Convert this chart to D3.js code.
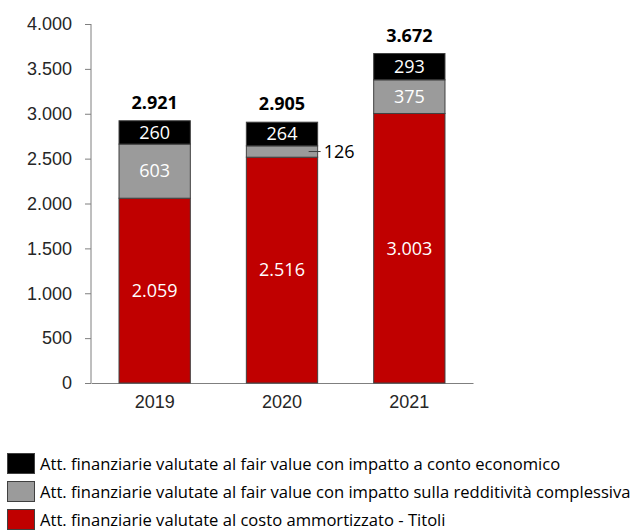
<!DOCTYPE html>
<html>
<head>
<meta charset="utf-8">
<script src="https://cdn.jsdelivr.net/npm/d3@7"></script>
<style>
  body { margin: 0; background: #fff; }
  svg { display: block; font-family: "Open Sans", Lato, sans-serif; }
</style>
</head>
<body>
<div id="chart"></div>
<script>
var years = ["2019", "2020", "2021"];
var costoAmm = [2059, 2516, 3003];
var fvRedditivita = [603, 126, 375];
var fvContoEcon = [260, 264, 293];
var totals = [2921, 2905, 3672];
var yTicks = [0, 500, 1000, 1500, 2000, 2500, 3000, 3500, 4000];
var seriesNames = [
    "Att. finanziarie valutate al fair value con impatto a conto economico",
    "Att. finanziarie valutate al fair value con impatto sulla redditività complessiva",
    "Att. finanziarie valutate al costo ammortizzato - Titoli"
];

var width = 637, height = 531;
var it = d3.formatLocale({decimal: ",", thousands: ".", grouping: [3], currency: ["€", ""]});
var fmt = it.format(",d");

var svg = d3.select("#chart").append("svg")
    .attr("width", width)
    .attr("height", height);

var x = d3.scaleBand()
    .domain(years)
    .range([91, 473])
    .paddingInner(0.44)
    .paddingOuter(0.22);

var y = d3.scaleLinear()
    .domain([0, 4000])
    .range([383, 24]);

var color = ["#000000", "#9b9b9b", "#c00000"];

// stack: red bottom, gray middle, black top
var rows = years.map(function(yr, i) {
    return {year: yr, costo: costoAmm[i], redd: fvRedditivita[i], conto: fvContoEcon[i]};
});
var layers = d3.stack().keys(["costo", "redd", "conto"])(rows);
var layerColor = {costo: "#c00000", redd: "#9b9b9b", conto: "#000000"};

// y axis
var yAxis = svg.append("g")
    .attr("transform", "translate(91,0)")
    .call(d3.axisLeft(y).tickValues(yTicks).tickSize(6).tickPadding(13).tickFormat(fmt));
yAxis.select(".domain").attr("stroke", "#7f7f7f").attr("d", "M0,24V383");
yAxis.selectAll(".tick line").attr("stroke", "#7f7f7f");
yAxis.selectAll("text").attr("font-size", 18).attr("fill", "#262626");

// x axis
var xAxis = svg.append("g")
    .attr("transform", "translate(0,383)")
    .call(d3.axisBottom(x).tickSize(0).tickPadding(12));
xAxis.select(".domain").attr("stroke", "#7f7f7f");
xAxis.selectAll("text").attr("font-size", 18).attr("fill", "#262626");

// bars
svg.append("g").selectAll("g")
    .data(layers)
    .enter().append("g")
    .attr("fill", function(d) { return layerColor[d.key]; })
  .selectAll("rect")
    .data(function(d) { return d; })
    .enter().append("rect")
    .attr("x", function(d) { return x(d.data.year); })
    .attr("y", function(d) { return y(d[1]); })
    .attr("width", x.bandwidth())
    .attr("height", function(d) { return y(d[0]) - y(d[1]); })
    .attr("stroke", "#404040")
    .attr("stroke-width", 1);

// segment labels (small ones go outside with a leader line)
layers.forEach(function(layer) {
    layer.forEach(function(d) {
        var v = d[1] - d[0];
        var cx = x(d.data.year) + x.bandwidth() / 2;
        var cy = (y(d[0]) + y(d[1])) / 2;
        if (y(d[0]) - y(d[1]) < 20) {
            var lx = x(d.data.year) + x.bandwidth();
            svg.append("line")
                .attr("x1", lx - 9).attr("x2", lx + 3)
                .attr("y1", cy).attr("y2", cy)
                .attr("stroke", "#404040");
            svg.append("text")
                .attr("x", lx + 6)
                .attr("y", cy)
                .attr("dy", "0.35em")
                .attr("font-size", 18)
                .attr("fill", "#000")
                .text(fmt(v));
        } else {
            svg.append("text")
                .attr("x", cx)
                .attr("y", cy)
                .attr("dy", "0.35em")
                .attr("text-anchor", "middle")
                .attr("font-size", 18)
                .attr("fill", "#fff")
                .text(fmt(v));
        }
    });
});

// totals
svg.append("g").selectAll("text")
    .data(years)
    .enter().append("text")
    .attr("x", function(d) { return x(d) + x.bandwidth() / 2; })
    .attr("y", function(d, i) { return y(costoAmm[i] + fvRedditivita[i] + fvContoEcon[i]) - 12; })
    .attr("text-anchor", "middle")
    .attr("font-size", 18)
    .attr("font-weight", "bold")
    .attr("fill", "#000")
    .text(function(d, i) { return fmt(totals[i]); });

// legend
var legend = svg.append("g").selectAll("g")
    .data(seriesNames)
    .enter().append("g")
    .attr("transform", function(d, i) { return "translate(0," + (453 + i * 28) + ")"; });

legend.append("rect")
    .attr("x", 7.5).attr("y", 0.5)
    .attr("width", 27).attr("height", 20)
    .attr("fill", function(d, i) { return color[i]; })
    .attr("stroke", "#404040");

legend.append("text")
    .attr("x", 40)
    .attr("y", 11)
    .attr("dy", "0.35em")
    .attr("font-size", 16.6)
    .attr("fill", "#000")
    .text(function(d) { return d; });
</script>
</body>
</html>
